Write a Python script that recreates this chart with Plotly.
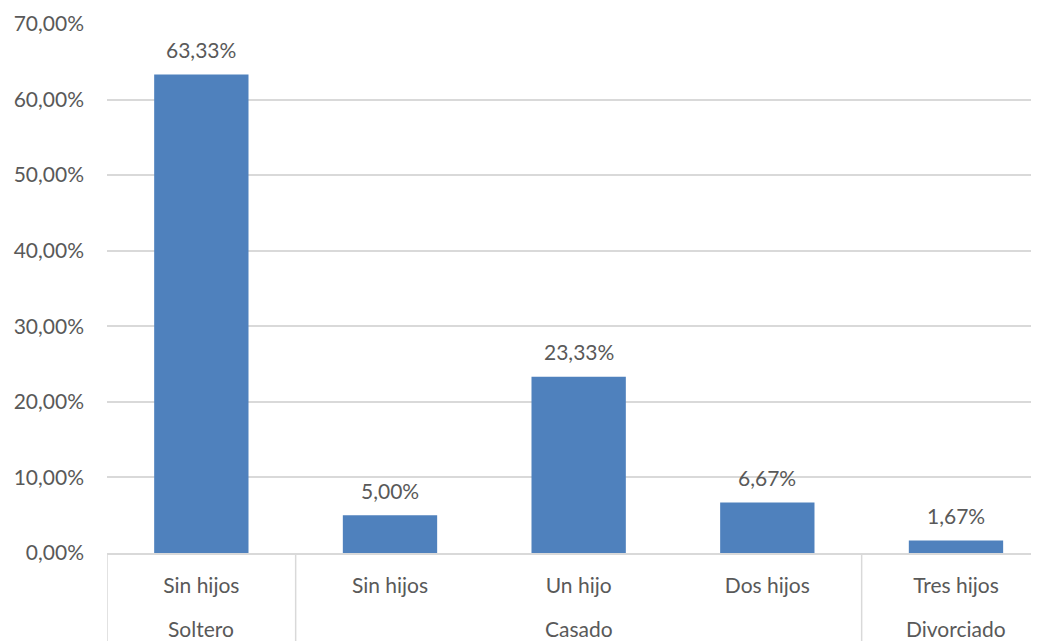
import plotly.graph_objects as go

# Estado civil / número de hijos
groups = ["Soltero", "Casado", "Casado", "Casado", "Divorciado"]
subgroups = ["Sin hijos", "Sin hijos", "Un hijo", "Dos hijos", "Tres hijos"]
values = [63.33, 5.00, 23.33, 6.67, 1.67]
y_ticks = [0, 10, 20, 30, 40, 50, 60, 70]

FONT = "Lato"
SIZE = 21
TEXT = "#595959"
GRID = "#D9D9D9"
BAR = "#4F81BD"


def pct(v):
    return f"{v:.2f}%".replace(".", ",")


x_pos = list(range(len(values)))

fig = go.Figure()
fig.add_trace(
    go.Bar(
        x=x_pos,
        y=values,
        width=0.5,
        marker={"color": BAR, "line": {"width": 0}},
        hoverinfo="skip",
        showlegend=False,
    )
)

# data labels above the bars
for xi, v in zip(x_pos, values):
    fig.add_annotation(
        x=xi, y=v, xref="x", yref="y",
        text=pct(v),
        showarrow=False, yanchor="middle", yshift=25,
        font={"family": FONT, "size": SIZE, "color": TEXT},
    )

# group labels below the sub-category labels
seen = []
for g in groups:
    if g not in seen:
        seen.append(g)
for g in seen:
    idx = [i for i, gg in enumerate(groups) if gg == g]
    fig.add_annotation(
        x=sum(idx) / len(idx), y=0, xref="x", yref="paper",
        text=g, showarrow=False, yanchor="middle", yshift=-75,
        font={"family": FONT, "size": SIZE, "color": TEXT},
    )

# dividers between groups (left edge + boundaries)
bounds = [-0.5] + [i - 0.5 for i in range(1, len(groups)) if groups[i] != groups[i - 1]]
for b in bounds:
    fig.add_shape(
        type="line", xref="x", yref="paper",
        x0=b, x1=b, y0=0, y1=-0.2,
        line={"color": GRID, "width": 1.5},
    )

fig.update_layout(
    width=1031,
    height=633,
    margin={"l": 99, "r": 0, "t": 16, "b": 88},
    paper_bgcolor="white",
    plot_bgcolor="white",
    font={"family": FONT, "size": SIZE, "color": TEXT},
    xaxis={
        "range": [-0.5, 4.44],
        "tickvals": x_pos,
        "ticktext": subgroups,
        "ticks": "",
        "ticklabelstandoff": 13,
        "showgrid": False,
        "zeroline": False,
        "showline": True,
        "linecolor": GRID,
        "linewidth": 1.5,
        "tickfont": {"family": FONT, "size": SIZE, "color": TEXT},
    },
    yaxis={
        "range": [0, 70],
        "tickvals": y_ticks,
        "ticktext": [pct(v) for v in y_ticks],
        "ticks": "",
        "ticklabelstandoff": 22,
        "showgrid": True,
        "gridcolor": GRID,
        "gridwidth": 1.5,
        "zeroline": False,
        "showline": False,
        "tickfont": {"family": FONT, "size": SIZE, "color": TEXT},
    },
)

fig.write_html("out.html")
